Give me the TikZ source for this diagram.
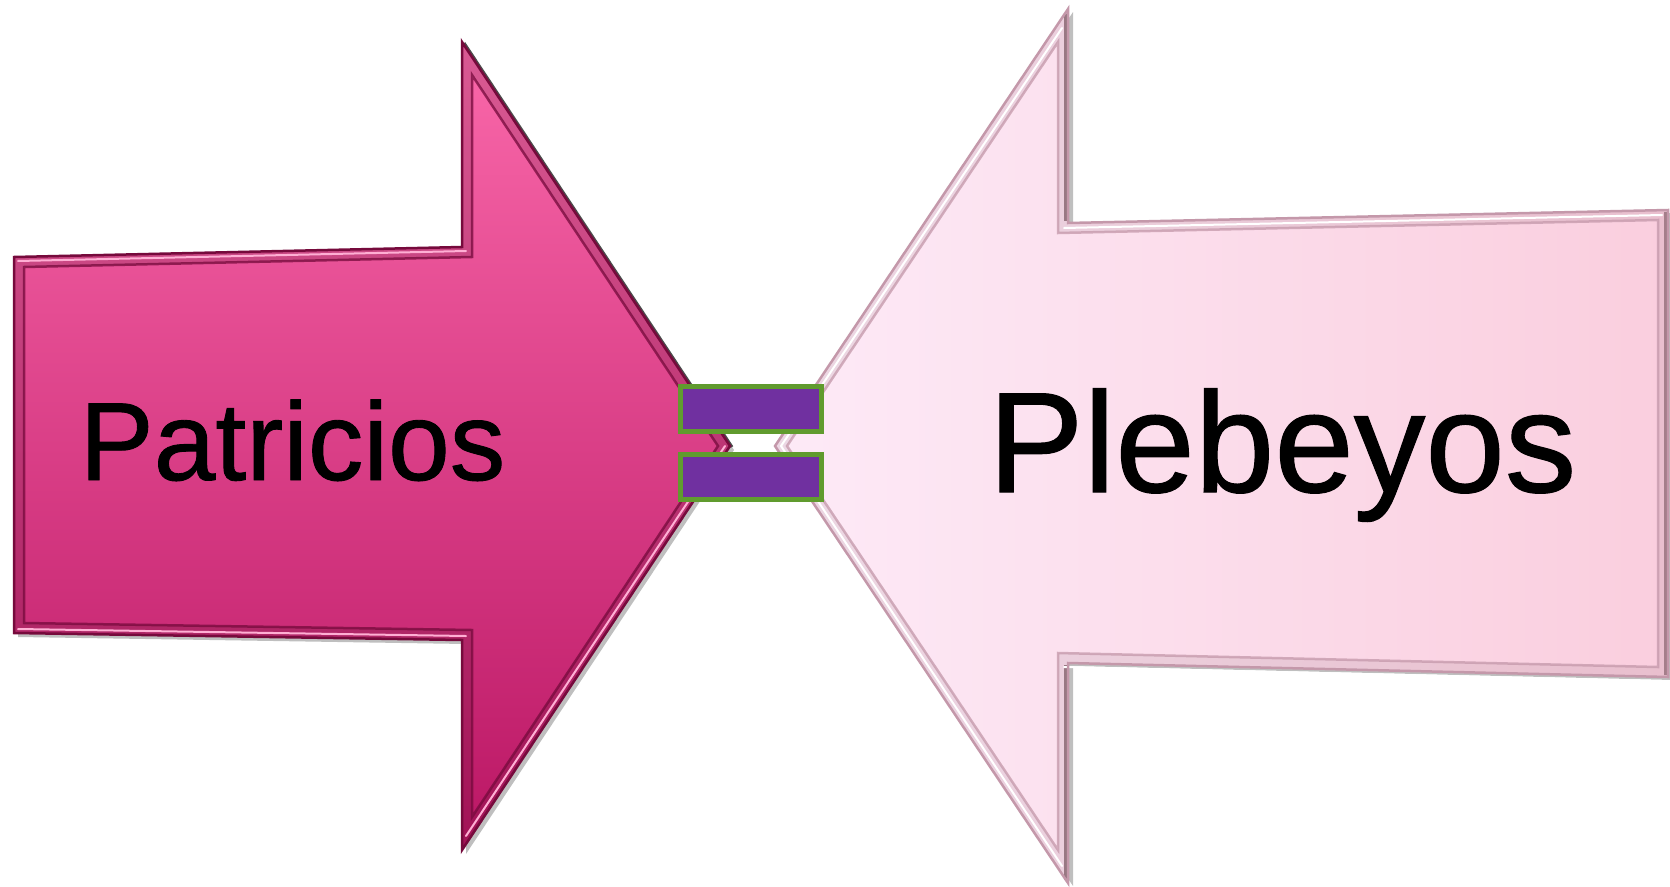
\documentclass[tikz,border=0pt]{standalone}
\usepackage{fontspec}
\setmainfont{Liberation Sans}
\newfontfamily\labelfont[FakeBold=0.8]{Liberation Sans}
\definecolor{lfTop}{RGB}{250,104,170}
\definecolor{lfBot}{RGB}{186,22,100}
\definecolor{lEdge}{RGB}{118,10,60}
\definecolor{lHi}{RGB}{255,175,212}
\definecolor{rfL}{RGB}{253,234,247}
\definecolor{rfR}{RGB}{250,206,222}
\definecolor{rEdge}{RGB}{196,152,170}
\definecolor{rDark}{RGB}{118,84,94}
\definecolor{eqPurple}{RGB}{112,48,160}
\definecolor{eqGreen}{RGB}{96,155,46}
\tikzset{
  arrowshadow/.style={fill=black, opacity=.25},
  outeredge/.style={line width=2.5pt, line join=miter},
  inneredge/.style={line width=2.5pt, line join=miter, opacity=.75},
  hiline/.style={line width=2pt, line cap=round},
  eqbar/.style={draw=eqGreen, fill=eqPurple, line width=5pt, minimum width=141pt, minimum height=45pt, inner sep=0pt},
  labeltext/.style={anchor=base west, inner sep=0pt, text=black},
}
\begin{document}
\begin{tikzpicture}[x=1pt,y=-1pt]
\useasboundingbox (0,0) rectangle (1670,886);
\fill[white] (0,0) rectangle (1670,886);

% ---------- left arrow (Patricios) ----------
\coordinate (LA) at (14,257);
\coordinate (LB) at (462,247);
\coordinate (LC) at (462,42);
\coordinate (LD) at (730,446);
\coordinate (LE) at (462,850);
\coordinate (LF) at (462,640);
\coordinate (LG) at (14,633);
% inset 10
\coordinate (La) at (24,267);
\coordinate (Lb) at (472,257);
\coordinate (Lc) at (472,75);
\coordinate (Ld) at (718,446);
\coordinate (Le) at (472,817);
\coordinate (Lf) at (472,630);
\coordinate (Lg) at (24,623);

\fill[arrowshadow] ([shift={(4,4)}]LA) -- ([shift={(4,4)}]LB) -- ([shift={(4,4)}]LC) -- ([shift={(4,4)}]LD) -- ([shift={(4,4)}]LE) -- ([shift={(4,4)}]LF) -- ([shift={(4,4)}]LG) -- cycle;
\draw[line width=3pt, black!70] ([shift={(2,1)}]LC) -- ([shift={(2,1)}]LD);
\shade[top color=lfTop, bottom color=lfBot] (LA) -- (LB) -- (LC) -- (LD) -- (LE) -- (LF) -- (LG) -- cycle;
\fill[black, opacity=.13] (LA) -- (LB) -- (LC) -- (LD) -- (LE) -- (LF) -- (LG) -- cycle
      (La) -- (Lg) -- (Lf) -- (Le) -- (Ld) -- (Lc) -- (Lb) -- cycle;
\draw[inneredge, lEdge] (La) -- (Lb) -- (Lc) -- (Ld) -- (Le) -- (Lf) -- (Lg) -- cycle;
\draw[hiline, lHi] (18,261) -- (466,251);
\draw[hiline, lHi] (18,629) -- (466,636);
\draw[hiline, lHi] (725,446) -- (466,836);
\draw[outeredge, lEdge] (LA) -- (LB) -- (LC) -- (LD) -- (LE) -- (LF) -- (LG) -- cycle;

% ---------- right arrow (Plebeyos) ----------
\coordinate (RH) at (775,446);
\coordinate (RI) at (1068,9);
\coordinate (RJ) at (1068,223);
\coordinate (RK) at (1668,210);
\coordinate (RL) at (1668,677);
\coordinate (RM) at (1068,663);
\coordinate (RN) at (1068,883);
% inset 10
\coordinate (Rh) at (787,446);
\coordinate (Ri) at (1058,42);
\coordinate (Rj) at (1058,233);
\coordinate (Rk) at (1658,220);
\coordinate (Rl) at (1658,667);
\coordinate (Rm) at (1058,653);
\coordinate (Rn) at (1058,850);

\fill[arrowshadow] ([shift={(5,3)}]RH) -- ([shift={(5,3)}]RI) -- ([shift={(5,3)}]RJ) -- ([shift={(5,3)}]RK) -- ([shift={(5,3)}]RL) -- ([shift={(5,3)}]RM) -- ([shift={(5,3)}]RN) -- cycle;
\shade[left color=rfL, right color=rfR] (RH) -- (RI) -- (RJ) -- (RK) -- (RL) -- (RM) -- (RN) -- cycle;
\fill[rDark, opacity=.12] (RH) -- (RI) -- (RJ) -- (RK) -- (RL) -- (RM) -- (RN) -- cycle
      (Rh) -- (Rn) -- (Rm) -- (Rl) -- (Rk) -- (Rj) -- (Ri) -- cycle;
\draw[inneredge, rEdge] (Rh) -- (Ri) -- (Rj) -- (Rk) -- (Rl) -- (Rm) -- (Rn) -- cycle;
\draw[line width=4pt, rDark, opacity=.7] (1066,14) -- (1066,221);
\draw[line width=4pt, rDark, opacity=.7] (1066,665) -- (1066,880);
\draw[line width=4pt, rDark, opacity=.6] (1666,212) -- (1666,675);
\draw[hiline, white] (781,446) -- (1062,28);
\draw[hiline, white] (781,446) -- (1062,866);
\draw[hiline, white] (1064,228) -- (1662,215);
\draw[hiline, white] (1064,667) -- (1662,681);
\draw[outeredge, rEdge] (RH) -- (RI) -- (RJ) -- (RK) -- (RL) -- (RM) -- (RN) -- cycle;

% ---------- labels ----------
\node[labeltext, font=\labelfont\fontsize{111}{120}\selectfont] (patricios) at (79.5,480) {Patricios};
\node[labeltext, font=\labelfont\fontsize{143}{150}\selectfont] (plebeyos) at (988,492) {Plebeyos};

% ---------- equals sign ----------
\node[eqbar] (eqtop) at (751,409) {};
\node[eqbar] (eqbot) at (751,477) {};
\end{tikzpicture}
\end{document}
